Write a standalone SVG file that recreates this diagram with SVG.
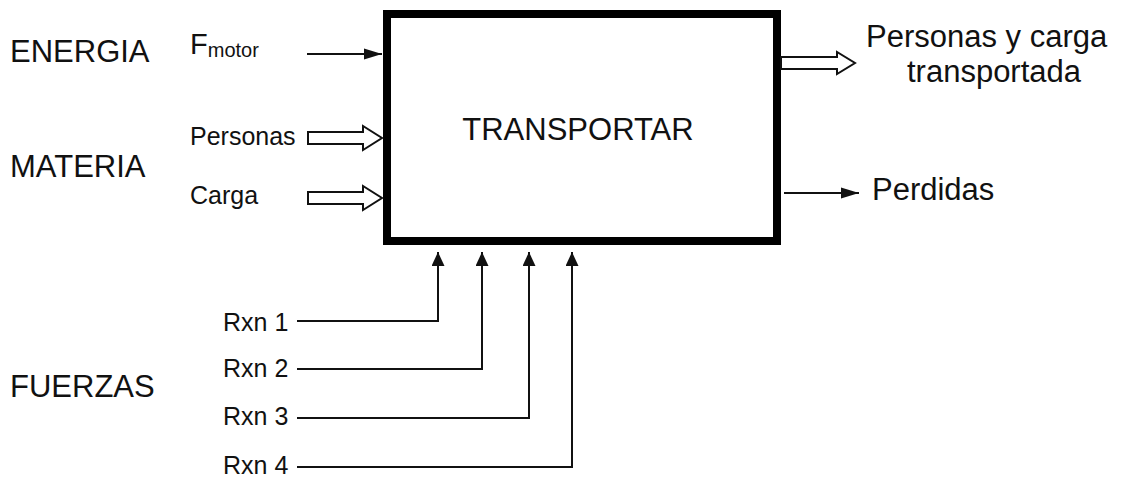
<svg xmlns="http://www.w3.org/2000/svg" width="1122" height="477" viewBox="0 0 1122 477">
<style>
text{font-family:"Liberation Sans",Arial,sans-serif;fill:#111}
.big{font-size:31px}
.mid{font-size:25px}
.ln{stroke:#111;stroke-width:2;fill:none}
.hol{stroke:#111;stroke-width:2;fill:#fff;stroke-linejoin:miter}
</style>
<defs>
<marker id="ah" markerWidth="18" markerHeight="12" refX="18" refY="6" orient="auto" markerUnits="userSpaceOnUse" viewBox="0 0 18 12">
<path d="M0,0.5 L18,6 L0,11.5 Z" fill="#111"/>
</marker>
<marker id="ahv" markerWidth="14" markerHeight="13" refX="14" refY="6.5" orient="auto" markerUnits="userSpaceOnUse" viewBox="0 0 14 13">
<path d="M0,0 L14,6.5 L0,13 Z" fill="#111"/>
</marker>
</defs>
<rect width="1122" height="477" fill="#fff"/>
<g id="labels">
<text class="big" x="10" y="62">ENERGIA</text>
<text class="big" x="10" y="177">MATERIA</text>
<text class="big" x="10" y="397">FUERZAS</text>
</g>
<g id="transportar">
<rect x="387" y="14" width="390" height="227" fill="#fff" stroke="#000" stroke-width="8"/>
<text class="big" x="578" y="140" text-anchor="middle">TRANSPORTAR</text>
</g>
<g id="inputs">
<text x="190" y="54" font-size="29">F<tspan font-size="20" dy="3">motor</tspan></text>
<text class="mid" x="190" y="145">Personas</text>
<text class="mid" x="190" y="204">Carga</text>
</g>
<g id="outputs">
<text class="big" x="866" y="47">Personas y carga</text>
<text class="big" x="994" y="82" text-anchor="middle">transportada</text>
<text class="big" x="872" y="200">Perdidas</text>
</g>
<g id="reactions">
<text class="mid" x="223" y="331">Rxn 1</text>
<text class="mid" x="223" y="377">Rxn 2</text>
<text class="mid" x="223" y="425">Rxn 3</text>
<text class="mid" x="223" y="474">Rxn 4</text>
</g>
<g id="connectors">
<line class="ln" x1="307" y1="54" x2="382" y2="54" marker-end="url(#ah)"/>
<path class="hol" d="M308,132 L363,132 L363,126 L382,138 L363,150 L363,144 L308,144 Z"/>
<path class="hol" d="M308,192 L363,192 L363,186 L382,198 L363,210 L363,204 L308,204 Z"/>
<path class="hol" d="M781,57 L837,57 L837,52 L855,63 L837,74 L837,69 L781,69 Z"/>
<line class="ln" x1="784" y1="193" x2="859" y2="193" marker-end="url(#ah)"/>
<path class="ln" d="M297,321 H438 V252" marker-end="url(#ahv)"/>
<path class="ln" d="M297,369 H482 V252" marker-end="url(#ahv)"/>
<path class="ln" d="M297,418 H529 V252" marker-end="url(#ahv)"/>
<path class="ln" d="M297,467 H572 V252" marker-end="url(#ahv)"/>
</g>
</svg>
